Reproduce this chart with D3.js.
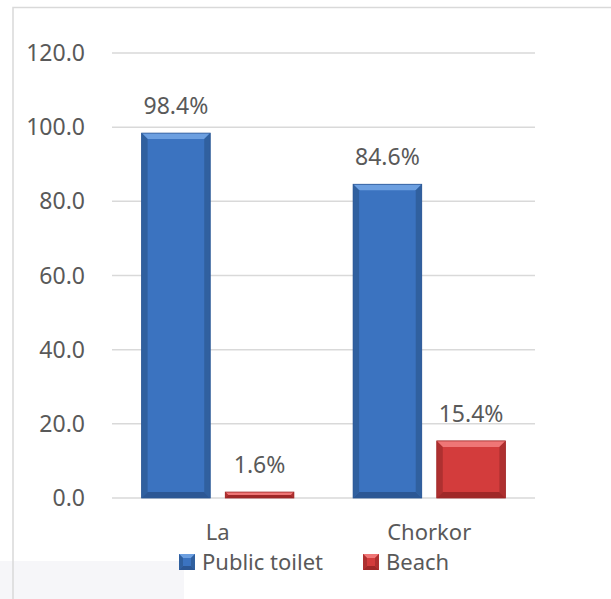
<!DOCTYPE html>
<html>
<head>
<meta charset="utf-8">
<script src="https://cdn.jsdelivr.net/npm/d3@7"></script>
<style>
  body { margin: 0; background: #fff; }
  text { font-family: "Noto Sans", "Open Sans", sans-serif; fill: #595959; }
</style>
</head>
<body>
<div id="container"></div>
<script>
// data we work with
const places = ["La", "Chorkor"];
const seriesNames = ["Public toilet", "Beach"];
const publicToilet = [98.4, 84.6];
const beach = [1.6, 15.4];
const yTicks = [0, 20, 40, 60, 80, 100, 120];

const w = 611;
const h = 599;

let viz = d3.select("#container")
  .append("svg")
    .attr("width", w)
    .attr("height", h)
;

// faint background bits at the bottom left
viz.append("rect")
  .attr("x", 0).attr("y", 561).attr("width", 184).attr("height", 40)
  .attr("fill", "#f6f6f9");

// outer frame
viz.append("rect")
  .attr("x", 13).attr("y", 7.5).attr("width", 620).attr("height", 620)
  .attr("fill", "none")
  .attr("stroke", "#d9d9d9")
  .attr("stroke-width", 1.5);

let xScale = d3.scaleBand().domain(places).range([112, 535]).paddingInner(0.28).paddingOuter(0.14);
let inner = d3.scaleBand().domain(seriesNames).range([0, xScale.bandwidth()]).paddingInner(0.18);
let yScale = d3.scaleLinear().domain([0, 120]).range([498, 53]);

// grid
viz.selectAll(".grid").data(yTicks).enter()
  .append("line")
    .attr("x1", 112).attr("x2", 535)
    .attr("y1", d => yScale(d)).attr("y2", d => yScale(d))
    .attr("stroke", "#d9d9d9")
    .attr("stroke-width", 1.5)
;

viz.selectAll(".ylab").data(yTicks).enter()
  .append("text")
    .attr("x", 85)
    .attr("y", d => yScale(d) + 8)
    .attr("text-anchor", "end")
    .style("font-size", "23px")
    .text(d => d.toFixed(1))
;

const colors = {
  "Public toilet": { main: "#3b73c0", top: "#6c9fe0", side: "#30609f", bottom: "#2c5794" },
  "Beach": { main: "#d33c3c", top: "#ef7676", side: "#ae3030", bottom: "#9f2828" }
};

let bars = [];
places.forEach((p, i) => {
  bars.push({ place: p, series: "Public toilet", value: publicToilet[i] });
  bars.push({ place: p, series: "Beach", value: beach[i] });
});

function drawBar(g, d) {
  let x0 = xScale(d.place) + inner(d.series);
  let x1 = x0 + inner.bandwidth();
  let y0 = yScale(d.value);
  let y1 = yScale(0);
  let c = colors[d.series];
  let b = Math.min(6, (y1 - y0) / 2);
  g.append("rect").attr("x", x0).attr("y", y0).attr("width", x1 - x0).attr("height", y1 - y0).attr("fill", c.main);
  g.append("path").attr("d", `M${x0},${y0}L${x1},${y0}L${x1 - b},${y0 + b}L${x0 + b},${y0 + b}Z`).attr("fill", c.top);
  g.append("path").attr("d", `M${x0},${y0}L${x0 + b},${y0 + b}L${x0 + b},${y1 - b}L${x0},${y1}Z`).attr("fill", c.side);
  g.append("path").attr("d", `M${x1},${y0}L${x1 - b},${y0 + b}L${x1 - b},${y1 - b}L${x1},${y1}Z`).attr("fill", c.side);
  g.append("path").attr("d", `M${x0},${y1}L${x0 + b},${y1 - b}L${x1 - b},${y1 - b}L${x1},${y1}Z`).attr("fill", c.bottom);
  g.append("rect").attr("x", x0).attr("y", y0).attr("width", x1 - x0).attr("height", y1 - y0)
    .attr("fill", "none").attr("stroke", c.bottom).attr("stroke-width", 0.8);
}

bars.forEach(d => {
  let g = viz.append("g");
  drawBar(g, d);
  viz.append("text")
    .attr("x", xScale(d.place) + inner(d.series) + inner.bandwidth() / 2)
    .attr("y", yScale(d.value) - 19)
    .attr("text-anchor", "middle")
    .style("font-size", "23px")
    .text(d.value.toFixed(1) + "%");
});

// category labels
viz.selectAll(".cat").data(places).enter()
  .append("text")
    .attr("x", d => xScale(d) + xScale.bandwidth() / 2)
    .attr("y", 540)
    .attr("text-anchor", "middle")
    .style("font-size", "22px")
    .text(d => d)
;

// legend
const legendX = [179, 363];
seriesNames.forEach((s, i) => {
  let g = viz.append("g");
  let c = colors[s];
  let x0 = legendX[i], y0 = 554, sz = 16, b = 4;
  g.append("rect").attr("x", x0).attr("y", y0).attr("width", sz).attr("height", sz).attr("fill", c.main);
  g.append("path").attr("d", `M${x0},${y0}L${x0 + sz},${y0}L${x0 + sz - b},${y0 + b}L${x0 + b},${y0 + b}Z`).attr("fill", c.top);
  g.append("path").attr("d", `M${x0},${y0}L${x0 + b},${y0 + b}L${x0 + b},${y0 + sz - b}L${x0},${y0 + sz}Z`).attr("fill", c.side);
  g.append("path").attr("d", `M${x0 + sz},${y0}L${x0 + sz - b},${y0 + b}L${x0 + sz - b},${y0 + sz - b}L${x0 + sz},${y0 + sz}Z`).attr("fill", c.side);
  g.append("path").attr("d", `M${x0},${y0 + sz}L${x0 + b},${y0 + sz - b}L${x0 + sz - b},${y0 + sz - b}L${x0 + sz},${y0 + sz}Z`).attr("fill", c.bottom);
  viz.append("text")
    .attr("x", x0 + sz + 7)
    .attr("y", 570)
    .style("font-size", "22px")
    .text(s);
});
</script>
</body>
</html>
